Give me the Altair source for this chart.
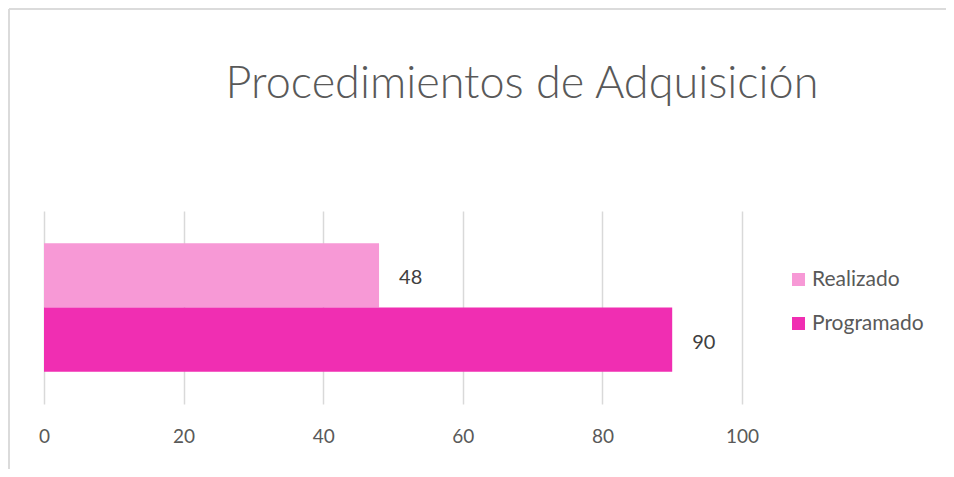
import altair as alt
import pandas as pd

series = ["Realizado", "Programado"]
values = [48, 90]
colors = ["#F799D6", "#F02EB2"]
x_ticks = [0, 20, 40, 60, 80, 100]

df = pd.DataFrame({"serie": series, "valor": values})

base = alt.Chart(df).encode(
    y=alt.Y("serie:N", sort=series, axis=None,
            scale=alt.Scale(paddingInner=0, paddingOuter=0.5)),
)

bars = base.mark_bar().encode(
    x=alt.X("valor:Q", scale=alt.Scale(domain=[0, 100], nice=False),
            axis=alt.Axis(values=x_ticks, title=None, domain=False, ticks=False,
                          labelFlush=False,
                          labelPadding=23, labelFontSize=19, labelColor="#595959",
                          labelFont="Lato", gridColor="#D9D9D9", gridWidth=1.5)),
    color=alt.Color("serie:N", sort=series,
                    scale=alt.Scale(domain=series, range=colors),
                    legend=alt.Legend(title=None, orient="none", legendX=744, legendY=58,
                                      symbolType="square", symbolSize=170,
                                      symbolStrokeWidth=0, labelFontSize=21,
                                      labelColor="#595959", labelFont="Lato",
                                      rowPadding=22, labelOffset=3)),
)

labels = base.mark_text(align="left", baseline="middle", dx=20, dy=3, fontSize=20,
                        font="Lato", color="#404040").encode(
    x="valor:Q",
    text="valor:Q",
)

frame = alt.Chart(df).mark_rule(color="#D9D9D9", strokeWidth=1.5).encode(
    x=alt.value(-35), x2=alt.value(920), y=alt.value(-202)
)
frame2 = alt.Chart(df).mark_rule(color="#D9D9D9", strokeWidth=1.5).encode(
    x=alt.value(-35), y=alt.value(-202), y2=alt.value(270)
)

chart = alt.layer(frame, frame2, bars, labels).properties(
    width=698,
    height=193,
    background="white",
    padding={"left": 36, "top": 203, "right": 204, "bottom": 65},
    autosize=alt.AutoSizeParams(type="none"),
    title=alt.TitleParams("Procedimientos de Adquisición", fontSize=45, font="Lato",
                          fontWeight=300, color="#595959", anchor="middle",
                          baseline="alphabetic",
                          frame="group", dx=129, offset=-135),
).configure_view(strokeWidth=0)

chart.save("out.html", embed_options={"renderer": "svg", "actions": False})
